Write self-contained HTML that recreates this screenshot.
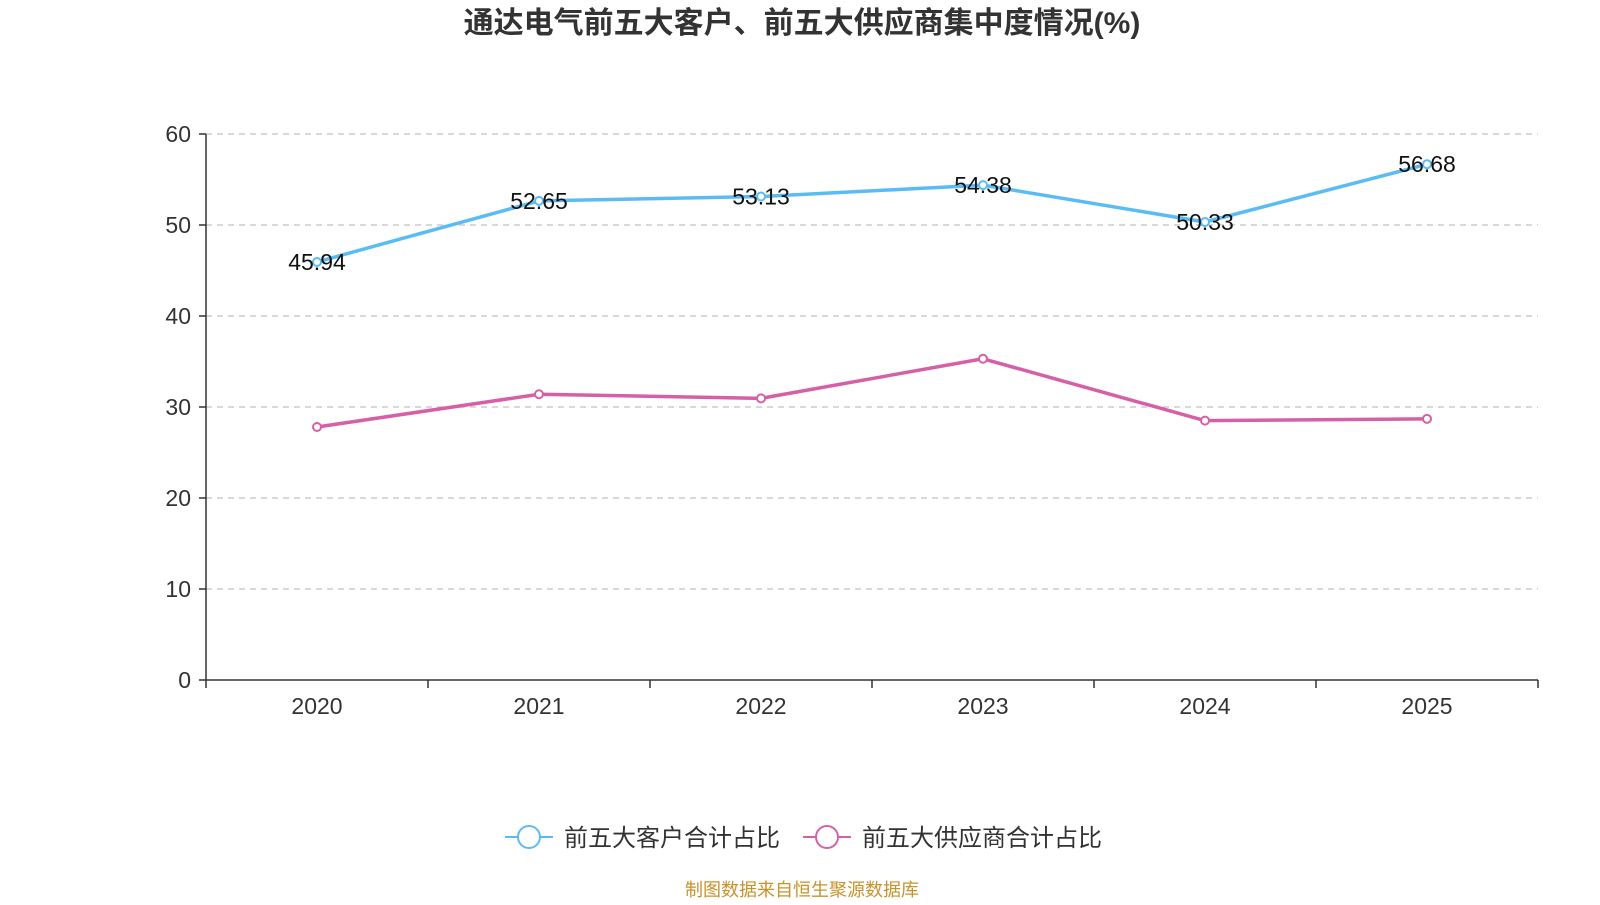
<!DOCTYPE html>
<html><head><meta charset="utf-8">
<style>
html,body{margin:0;padding:0;background:#fff;}
body{width:1600px;height:900px;overflow:hidden;font-family:"Liberation Sans","Noto Sans CJK SC",sans-serif;}
</style></head>
<body>
<svg id="chart" width="1600" height="900" xmlns="http://www.w3.org/2000/svg" style="font-family:'Liberation Sans','Noto Sans CJK SC',sans-serif">
<text x="802" y="33" text-anchor="middle" font-size="30" font-weight="bold" fill="#333">通达电气前五大客户、前五大供应商集中度情况(%)</text>
<g id="grid"></g><g id="axes"></g><g id="series"></g>
<g>
<g>
<line x1="505" y1="837" x2="553" y2="837" stroke="#5bbcf5" stroke-width="2"/>
<circle cx="529" cy="837" r="11" fill="#fff" stroke="#5bbcf5" stroke-width="2"/>
<text x="564" y="846" font-size="24" fill="#333">前五大客户合计占比</text></g>
<g>
<line x1="803" y1="837" x2="851" y2="837" stroke="#d660a8" stroke-width="2"/>
<circle cx="827" cy="837" r="11" fill="#fff" stroke="#d660a8" stroke-width="2"/>
<text x="862" y="846" font-size="24" fill="#333">前五大供应商合计占比</text></g>
</g>
<text x="802" y="896" text-anchor="middle" font-size="18" fill="#c8922a">制图数据来自恒生聚源数据库</text>
</svg>
<script>
const categories=["2020","2021","2022","2023","2024","2025"];
const customerValues=[45.94,52.65,53.13,54.38,50.33,56.68];
const supplierValues=[27.8,31.4,30.95,35.3,28.5,28.7];
const yTicks=[0,10,20,30,40,50,60];
const NS="http://www.w3.org/2000/svg";
const L=206,R=1538,T=134,B=680,yMax=60;
const band=(R-L)/categories.length;
const xs=i=>L+band*(i+0.5);
const ys=v=>B-(v/yMax)*(B-T);
function mk(tag,attrs,parent,txt){const e=document.createElementNS(NS,tag);for(const k in attrs)e.setAttribute(k,attrs[k]);if(txt!==undefined)e.textContent=txt;parent.appendChild(e);return e;}
const grid=document.getElementById('grid'),axes=document.getElementById('axes'),ser=document.getElementById('series');
yTicks.forEach(t=>{
 if(t>0){const g=mk('line',{x1:L,x2:R,y1:ys(t),y2:ys(t),stroke:'#ccc','stroke-dasharray':'6,5','stroke-width':1.5},grid);
 
 }
 const tk=mk('line',{x1:L-7,x2:L,y1:ys(t),y2:ys(t),stroke:'#333','stroke-width':1.5},axes);
 
 
 const lb=mk('text',{x:L-15,y:ys(t)+8,'text-anchor':'end','font-size':23,fill:'#333'},axes,String(t));
 
 
});
const ya=mk('line',{x1:L,x2:L,y1:T,y2:B,stroke:'#333','stroke-width':1.5},axes);


const xa=mk('line',{x1:L,x2:R,y1:B,y2:B,stroke:'#333','stroke-width':1.5},axes);


for(let i=0;i<=categories.length;i++){const t=mk('line',{x1:L+band*i,x2:L+band*i,y1:B,y2:B+8,stroke:'#333','stroke-width':1.5},axes);
 
 }
categories.forEach((c,i)=>{const t=mk('text',{x:xs(i),y:B+34,'text-anchor':'middle','font-size':23,fill:'#333'},axes,c);
 
 });
function drawSeries(vals,color,name,labels){
 const p=mk('polyline',{points:vals.map((v,i)=>xs(i)+','+ys(v)).join(' '),fill:'none',stroke:color,'stroke-width':3.5,'stroke-linejoin':'round'},ser);
 
 
 vals.forEach((v,i)=>{const c=mk('circle',{cx:xs(i),cy:ys(v),r:4,fill:'#fff',stroke:color,'stroke-width':2},ser);
  
  
  if(labels){const t=mk('text',{x:xs(i),y:ys(v)+8,'text-anchor':'middle','font-size':23,fill:'#111'},ser,v.toFixed(2));
  
  }
 });
}
drawSeries(supplierValues,'#d660a8','suppliers',false);
drawSeries(customerValues,'#5bbcf5','customers',true);
</script>
</body></html>
